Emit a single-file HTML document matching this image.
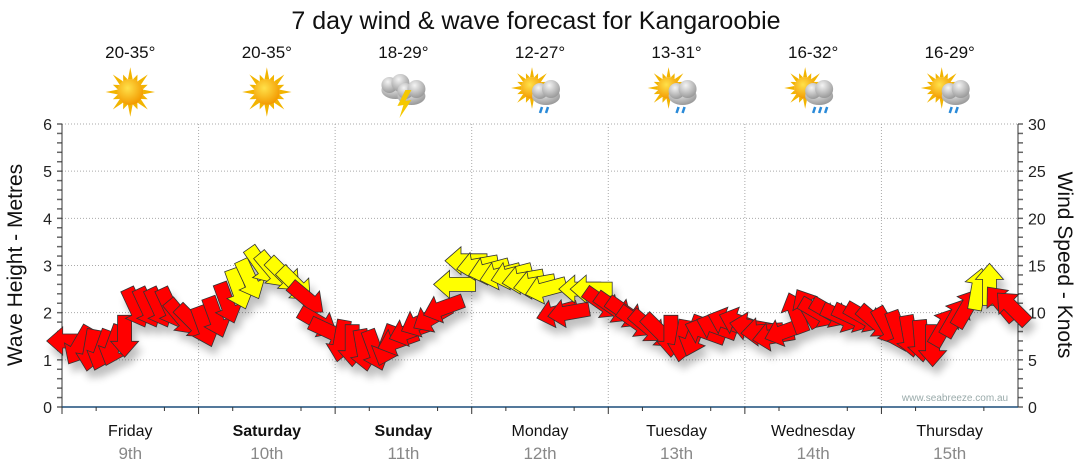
<!DOCTYPE html>
<html><head><meta charset="utf-8">
<style>
body{margin:0;background:#fff;font-family:"Liberation Sans","DejaVu Sans",sans-serif;}
svg{display:block}
</style></head>
<body>
<svg id="chart" width="1080" height="475" viewBox="0 0 1080 475" xmlns="http://www.w3.org/2000/svg">
<defs>
<filter id="sh" x="-50%" y="-50%" width="200%" height="200%">
<feGaussianBlur in="SourceAlpha" stdDeviation="4"/>
<feOffset dx="4" dy="8"/>
<feComponentTransfer><feFuncA type="linear" slope="0.25"/></feComponentTransfer>
<feMerge><feMergeNode/><feMergeNode in="SourceGraphic"/></feMerge>
</filter>
<radialGradient id="sun" cx="40%" cy="35%" r="65%"><stop offset="0" stop-color="#ffe14a"/><stop offset="1" stop-color="#f39a00"/></radialGradient>
<radialGradient id="cl" cx="40%" cy="30%" r="70%"><stop offset="0" stop-color="#f4f4f4"/><stop offset="1" stop-color="#9a9a9a"/></radialGradient>
</defs>
<text x="536" y="29" font-size="25" text-anchor="middle" fill="#111">7 day wind &amp; wave forecast for Kangaroobie</text>
<g id="grid"></g>
<g id="axes"></g>
<g id="icons"></g>
<g id="arrows" filter="url(#sh)"></g>
<text x="955" y="401" font-size="10" fill="#9aa" text-anchor="middle">www.seabreeze.com.au</text>
<text transform="translate(22,265) rotate(-90)" font-size="21" text-anchor="middle" fill="#111">Wave Height - Metres</text>
<text transform="translate(1058,265) rotate(90)" font-size="21" text-anchor="middle" fill="#111">Wind Speed - Knots</text>
</svg>
<script>
const days = ["Friday","Saturday","Sunday","Monday","Tuesday","Wednesday","Thursday"];
const dates = ["9th","10th","11th","12th","13th","14th","15th"];
const boldDays = [false,true,true,false,false,false,false];
const temps = ["20-35°","20-35°","18-29°","12-27°","13-31°","16-32°","16-29°"];
const icons = ["sun","sun","storm","suncloudrain","suncloudrain","suncloudrain2","suncloudrain"];
const leftTicks = [0,1,2,3,4,5,6];
const rightTicks = [0,5,10,15,20,25,30];
const windSpeed = [
7,6.5,6,6,6.5,7.5,10.5,10.5,10.5,10.5,9.5,9,
8.5,9.5,11,12.5,13.5,15,14.5,14,13,11.5,9,8,
7,6.5,6,6,6.5,7,8,9,9.5,10.5,13,15.5,
15,14.5,14,14,13.5,13,12.5,10,10,12.5,12.5,11,
10.5,10,9,8.5,8,7.5,7,7.5,8,8.5,9,9,
8.5,8,7.5,8,10,10.5,10,10,9.5,9.5,9.5,9,
8.5,8,7.5,7,6.5,8.5,9.5,10.5,12.5,13,11,10.5];
const windDir = [
180,120,100,110,110,90,65,65,65,65,50,45,
70,70,70,70,65,55,50,45,45,40,30,25,
100,90,80,70,110,160,160,155,150,160,180,180,
170,165,165,165,170,170,165,165,170,180,180,35,
35,35,35,40,45,90,100,110,200,200,200,200,
190,175,170,160,250,240,30,30,25,25,30,40,
60,70,80,85,90,300,300,300,280,270,230,225];

const NS="http://www.w3.org/2000/svg";
const X0=62,X1=1018,Y0=407,Y1=124;
const dayW=(X1-X0)/days.length;
const yM=v=>Y0-(v/6)*(Y0-Y1);
const yK=v=>Y0-(v/30)*(Y0-Y1);
const xT=i=>X0+(i+0.5)*(X1-X0)/windSpeed.length;
function mk(tag,attrs,parent){const e=document.createElementNS(NS,tag);for(const k in attrs)e.setAttribute(k,attrs[k]);parent.appendChild(e);return e;}
const grid=document.getElementById('grid'),axes=document.getElementById('axes'),ic=document.getElementById('icons'),ar=document.getElementById('arrows');

leftTicks.forEach(v=>{
  if(v>0){const l=mk('line',{x1:X0,x2:X1,y1:yM(v),y2:yM(v),stroke:'#aaa','stroke-dasharray':'1,2'},grid);
  
  }
  const t=mk('text',{x:X0-10,y:yM(v)+6,'font-size':16,'text-anchor':'end',fill:'#222'},axes);t.textContent=v;
  
  
});
rightTicks.forEach(v=>{
  const t=mk('text',{x:X1+10,y:yK(v)+6,'font-size':16,'text-anchor':'start',fill:'#222'},axes);t.textContent=v;
  
  
});
for(let k=0;k<=30;k++){
  const y=yM(k*0.2);mk('line',{x1:X0-5,x2:X0,y1:y,y2:y,stroke:'#666','stroke-width':1.5},axes);
  const y2=Y0-(k/30)*(Y0-Y1);mk('line',{x1:X1,x2:X1+5,y1:y2,y2:y2,stroke:'#666','stroke-width':1.5},axes);
}
mk('line',{x1:X0,x2:X0,y1:Y1,y2:Y0+7,stroke:'#333'},axes);
mk('line',{x1:X1,x2:X1,y1:Y1,y2:Y0,stroke:'#333'},axes);
mk('line',{x1:X0,x2:X1,y1:Y0,y2:Y0,stroke:'#1b4d7a','stroke-width':1.5},axes);

days.forEach((d,i)=>{
  const x=X0+i*dayW, cx=x+dayW/2;
  if(i>0){const l=mk('line',{x1:x,x2:x,y1:Y1,y2:Y0,stroke:'#aaa','stroke-dasharray':'1,2'},grid);
  
  }
  mk('line',{x1:x,x2:x,y1:Y0,y2:Y0+7,stroke:'#333'},axes);
  mk('line',{x1:cx-dayW/4,x2:cx-dayW/4,y1:Y0,y2:Y0+4,stroke:'#333'},axes);
  mk('line',{x1:cx+dayW/4,x2:cx+dayW/4,y1:Y0,y2:Y0+4,stroke:'#333'},axes);
  const t=mk('text',{x:cx,y:436,'font-size':16,'text-anchor':'middle',fill:'#111','font-weight':boldDays[i]?'bold':'normal'},axes);t.textContent=d;
  
  
  const t2=mk('text',{x:cx,y:459,'font-size':17,'text-anchor':'middle',fill:'#888'},axes);t2.textContent=dates[i];
  
  
  const t3=mk('text',{x:cx,y:58,'font-size':17,'text-anchor':'middle',fill:'#111'},ic);t3.textContent=temps[i];
  
  
  const g=mk('g',{transform:`translate(${cx},92)`},ic);
  
  
  drawIcon(g,icons[i]);
});

function sunG(g,sx,sy,r){
  for(let a=0;a<16;a++){const ang=a*Math.PI/8, L=a%2?r*1.45:r*1.9;
    const p1=[sx+Math.cos(ang-0.18)*r,sy+Math.sin(ang-0.18)*r],p2=[sx+Math.cos(ang+0.18)*r,sy+Math.sin(ang+0.18)*r],p3=[sx+Math.cos(ang)*L,sy+Math.sin(ang)*L];
    mk('polygon',{points:[p1,p3,p2].map(p=>p.join(',')).join(' '),fill:'#f2b400'},g);}
  mk('circle',{cx:sx,cy:sy,r:r,fill:'url(#sun)'},g);
}
function cloud(g,x,y,s){
  mk('ellipse',{cx:x,cy:y,rx:14*s,ry:9*s,fill:'url(#cl)'},g);
  mk('circle',{cx:x-6*s,cy:y-5*s,r:8*s,fill:'url(#cl)'},g);
  mk('circle',{cx:x+5*s,cy:y-7*s,r:9*s,fill:'url(#cl)'},g);
}
function drawIcon(g,type){
  if(type==='sun'){sunG(g,0,0,13);}
  else if(type==='storm'){cloud(g,-8,-2,1);cloud(g,8,4,1);
    mk('polygon',{points:'2,-2 -6,14 0,13 -4,26 8,8 2,9 8,-2',fill:'#f5c800'},g);}
  else {sunG(g,-8,-4,11);cloud(g,6,4,1);
    for(let k=0;k<(type==='suncloudrain2'?3:2);k++)mk('path',{d:`M${2+k*6},15 l-2,6`,stroke:'#2a8ad8','stroke-width':2.5},g);}
}

const arrowPts="-21,-7 5,-7 5,-14 21,0 5,14 5,7 -21,7";
windSpeed.forEach((v,i)=>{
  const p=mk('polygon',{points:arrowPts,transform:`translate(${xT(i).toFixed(1)},${yK(v).toFixed(1)}) rotate(${windDir[i]})`,fill:v>=12?'#ffff00':'#ff0000',stroke:'#333','stroke-width':0.8},ar);
  
  
});
</script>
</body></html>
